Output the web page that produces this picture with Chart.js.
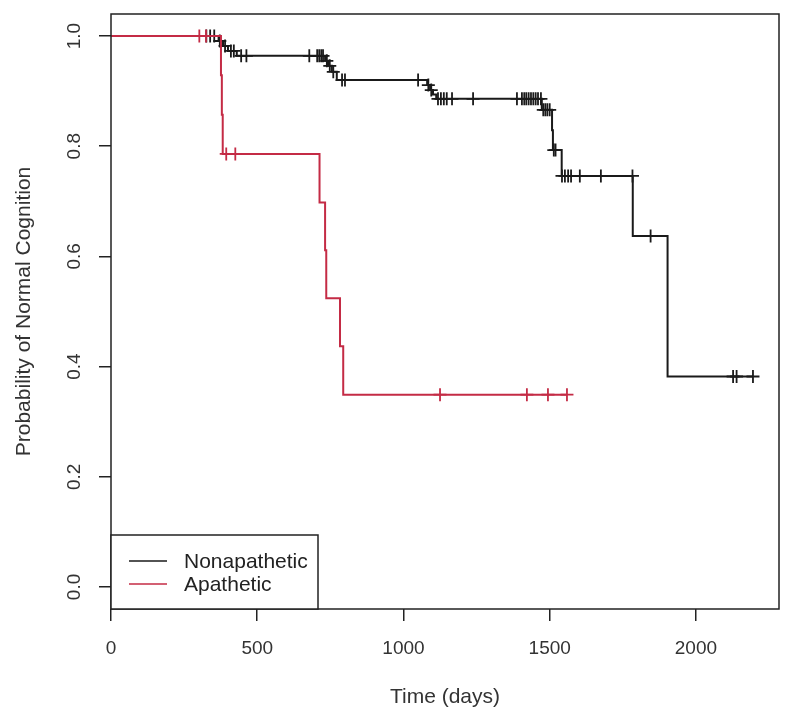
<!DOCTYPE html>
<html lang="en">
<head>
<meta charset="UTF-8">
<title>Probability of Normal Cognition</title>
<style>
  body { margin: 0; background: #fff; }
  #wrap { width: 800px; height: 718px; }
</style>
</head>
<body>
<div id="wrap"><canvas id="kmChart" width="800" height="718"></canvas></div>
<script src="https://cdn.jsdelivr.net/npm/chart.js@4"></script>
<script>
// groups
const groupNames = ['Nonapathetic', 'Apathetic'];

// Nonapathetic: event times (days) and survival after each step
const nonapathTimes = [368, 383, 400, 430, 732, 742, 755, 772, 1081, 1091, 1101, 1112,
  1473, 1508, 1511, 1541, 1784, 1903];
const nonapathSurv = [0.991, 0.982, 0.973, 0.964, 0.955, 0.946, 0.935, 0.920, 0.911, 0.902, 0.894, 0.886,
  0.866, 0.829, 0.793, 0.746, 0.637, 0.382];
// censored times
const nonapathCensor = [326, 339, 353, 372, 390, 410, 420, 445, 463, 678, 705, 712, 719, 725,
  738, 748, 760, 790, 800, 1050, 1085, 1095, 1118, 1128, 1138, 1148, 1166, 1238,
  1388, 1405, 1413, 1420, 1428, 1436, 1444, 1452, 1460, 1470, 1478, 1485, 1492, 1500,
  1514, 1520, 1542, 1552, 1563, 1573, 1603, 1675, 1783, 1845, 2127, 2139, 2195];

// Apathetic
const apathTimes = [376, 379, 382, 713, 732, 736, 783, 794];
const apathSurv = [0.929, 0.857, 0.786, 0.698, 0.611, 0.524, 0.437, 0.349];
const apathCensor = [302, 325, 394, 425, 1125, 1422, 1494, 1559];

// axes
const xTickValues = [0, 500, 1000, 1500, 2000];
const yTickValues = [0, 0.2, 0.4, 0.6, 0.8, 1.0];

const BLACK = '#1a1a1a';
const RED = '#c42b45';
const FONT = '"Liberation Sans", Arial, sans-serif';

// survival level of the step curve at time t
function survAt(times, surv, t) {
  let s = 1;
  for (let i = 0; i < times.length; i++) {
    if (times[i] <= t) s = surv[i];
  }
  return s;
}

function curvePoints(times, surv, censor) {
  const pts = [{ x: 0, y: 1 }];
  times.forEach((t, i) => pts.push({ x: t, y: surv[i] }));
  const lastC = Math.max(...censor);
  if (lastC > times[times.length - 1]) pts.push({ x: lastC, y: surv[surv.length - 1] });
  return pts;
}

function censorPoints(times, surv, censor) {
  return censor.map(t => ({ x: t, y: survAt(times, surv, t) }));
}

// box round the plot, like R
const boxPlugin = {
  id: 'box',
  afterDatasetsDraw(chart) {
    const a = chart.chartArea, ctx = chart.ctx;
    ctx.save();
    ctx.strokeStyle = '#222';
    ctx.lineWidth = 1.5;
    ctx.strokeRect(a.left, a.top, a.right - a.left, a.bottom - a.top);
    ctx.restore();
  }
};

// rotated y tick labels
const yLabelsPlugin = {
  id: 'yLabels',
  afterDraw(chart) {
    const ys = chart.scales.y, ctx = chart.ctx;
    ctx.save();
    ctx.fillStyle = '#333';
    ctx.font = '19px ' + FONT;
    ctx.textAlign = 'center';
    ctx.textBaseline = 'middle';
    yTickValues.forEach(v => {
      ctx.save();
      ctx.translate(75, ys.getPixelForValue(v));
      ctx.rotate(-Math.PI / 2);
      ctx.fillText(v.toFixed(1), 0, 0);
      ctx.restore();
    });
    ctx.restore();
  }
};

// legend box in the bottom-left corner
const legendPlugin = {
  id: 'kmLegend',
  afterDraw(chart) {
    const a = chart.chartArea, ctx = chart.ctx;
    const w = 207, h = 74;
    const x0 = a.left, y0 = a.bottom - h;
    ctx.save();
    ctx.fillStyle = '#fff';
    ctx.fillRect(x0, y0, w, h);
    ctx.strokeStyle = '#222';
    ctx.lineWidth = 1.5;
    ctx.strokeRect(x0, y0, w, h);
    const colors = [BLACK, RED];
    ctx.font = '21px ' + FONT;
    ctx.textBaseline = 'middle';
    ctx.textAlign = 'left';
    groupNames.forEach((name, i) => {
      const yy = y0 + 26 + i * 23;
      ctx.strokeStyle = colors[i];
      ctx.lineWidth = 1.5;
      ctx.beginPath();
      ctx.moveTo(x0 + 18, yy);
      ctx.lineTo(x0 + 56, yy);
      ctx.stroke();
      ctx.fillStyle = '#222';
      ctx.fillText(name, x0 + 73, yy + 1);
    });
    ctx.restore();
  }
};

const ctx = document.getElementById('kmChart');

new Chart(ctx, {
  type: 'line',
  data: {
    datasets: [
      {
        label: groupNames[1],
        data: curvePoints(apathTimes, apathSurv, apathCensor),
        borderColor: RED,
        borderWidth: 2,
        stepped: true,
        pointRadius: 0,
        fill: false,
        order: 1
      },
      {
        label: groupNames[1] + ' censored',
        type: 'scatter',
        data: censorPoints(apathTimes, apathSurv, apathCensor),
        pointStyle: 'cross',
        pointRadius: 6.5,
        borderColor: RED,
        borderWidth: 1.8,
        order: 0
      },
      {
        label: groupNames[0],
        data: curvePoints(nonapathTimes, nonapathSurv, nonapathCensor),
        borderColor: BLACK,
        borderWidth: 2,
        stepped: true,
        pointRadius: 0,
        fill: false,
        order: 3
      },
      {
        label: groupNames[0] + ' censored',
        type: 'scatter',
        data: censorPoints(nonapathTimes, nonapathSurv, nonapathCensor),
        pointStyle: 'cross',
        pointRadius: 6.5,
        borderColor: BLACK,
        borderWidth: 1.8,
        order: 2
      }
    ]
  },
  options: {
    responsive: false,
    animation: false,
    events: [],
    layout: { padding: { left: 0, right: 21, top: 14, bottom: 0 } },
    plugins: {
      legend: { display: false },
      tooltip: { enabled: false }
    },
    scales: {
      x: {
        type: 'linear',
        min: 0,
        max: 2284,
        afterBuildTicks: s => { s.ticks = xTickValues.map(v => ({ value: v })); },
        afterFit: s => { s.height = 109; },
        grid: { drawOnChartArea: false, drawTicks: true, tickLength: 12, color: '#222', lineWidth: 1.5 },
        border: { display: false },
        ticks: {
          color: '#333',
          font: { size: 19, family: FONT },
          padding: 16,
          maxRotation: 0,
          callback: v => String(v)
        },
        title: {
          display: true,
          text: 'Time (days)',
          color: '#333',
          font: { size: 21, family: FONT },
          padding: { top: 0, bottom: 8 }
        }
      },
      y: {
        type: 'linear',
        min: -0.04,
        max: 1.04,
        afterBuildTicks: s => { s.ticks = yTickValues.map(v => ({ value: v })); },
        afterFit: s => { s.width = 111; },
        grid: { drawOnChartArea: false, drawTicks: true, tickLength: 12, color: '#222', lineWidth: 1.5 },
        border: { display: false },
        ticks: { display: false },
        title: {
          display: true,
          text: 'Probability of Normal Cognition',
          color: '#333',
          font: { size: 21, family: FONT },
          padding: { top: 12, bottom: 0 }
        }
      }
    }
  },
  plugins: [boxPlugin, yLabelsPlugin, legendPlugin]
});
</script>
</body>
</html>
